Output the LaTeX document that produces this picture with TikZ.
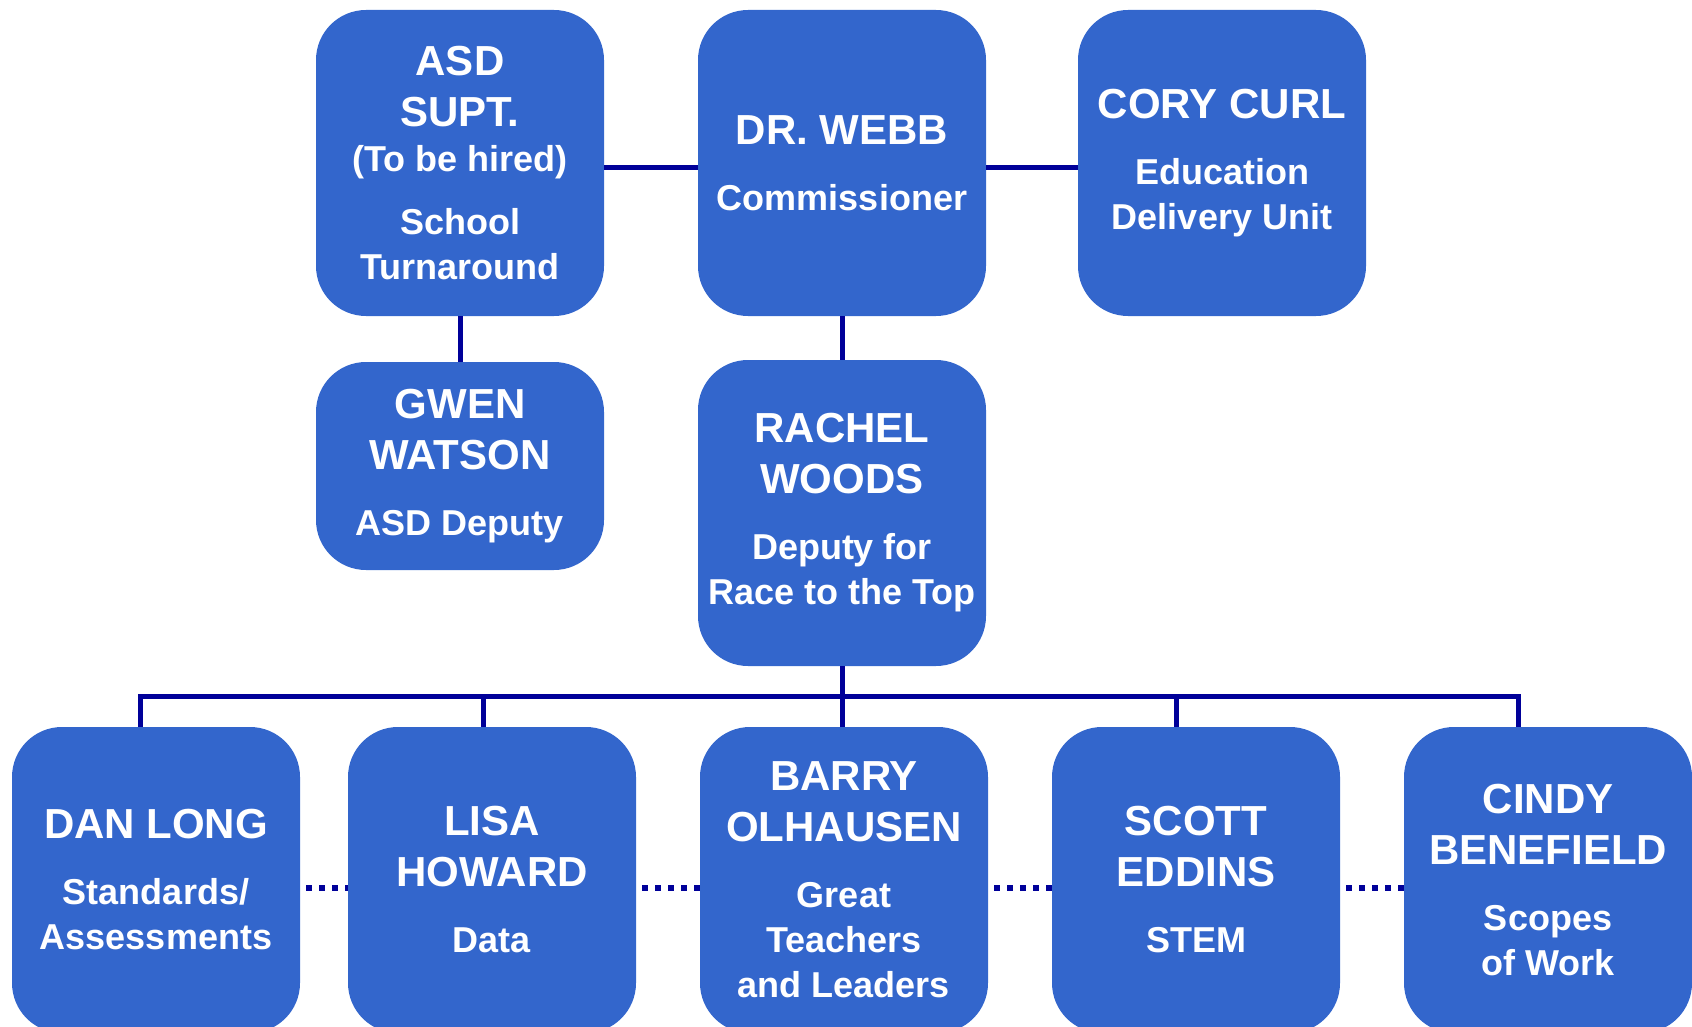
\documentclass[tikz,border=0pt]{standalone}
\usepackage{fontspec}
\setmainfont{Liberation Sans}
\usepackage{tikz}
\usetikzlibrary{positioning}

\definecolor{boxblue}{HTML}{3366CC}
\definecolor{linkblue}{HTML}{000099}
\newcommand{\namefont}{\fontsize{42}{51}\selectfont\bfseries}
\newcommand{\rolefont}{\fontsize{36}{45}\selectfont\bfseries}
\newcommand{\card}[2]{\parbox{284pt}{\centering\namefont #1\par\vspace{21pt}\rolefont #2\par}}

\begin{document}
\begin{tikzpicture}[x=1pt,y=-1pt,
    box/.style={fill=boxblue, text=white, rounded corners=50pt, inner sep=0pt,
                minimum width=288pt, minimum height=306pt, align=center},
    link/.style={draw=linkblue, line width=5pt, line join=miter},
    dotlink/.style={draw=linkblue, line width=6pt, dash pattern=on 6pt off 7pt, dash phase=-6pt}]
    \useasboundingbox (0,0) rectangle (1692,1027);
    \clip (0,0) rectangle (1692,1027);
               % top row
               \node[box] (asd) at (460,163)
                   {\parbox{284pt}{\centering\namefont ASD\\SUPT.\par\rolefont (To be hired)\par\vspace{18pt}School\\Turnaround\par}};
               \node[box] (webb) at (842,163) {\card{DR. WEBB}{Commissioner}};
               \node[box] (cory) at (1222,163) {\card{CORY CURL}{Education\\Delivery Unit}};
               % second row
               \node[box, minimum height=208pt] (gwen) at (460,466) {\card{GWEN\\WATSON}{ASD Deputy}};
               \node[box] (rachel) at (842,513) {\card{RACHEL\\WOODS}{Deputy for\\Race to the Top}};
               % bottom row
               \node[box] (dan) at (156,880) {\card{DAN LONG}{Standards/\\Assessments}};
               \node[box] (lisa) at (492,880) {\card{LISA\\HOWARD}{Data}};
               \node[box] (barry) at (844,880) {\card{BARRY\\OLHAUSEN}{Great\\Teachers\\and Leaders}};
               \node[box] (scott) at (1196,880) {\card{SCOTT\\EDDINS}{STEM}};
               \node[box] (cindy) at (1548,880) {\card{CINDY\\BENEFIELD}{Scopes\\of Work}};

               \coordinate (bus) at ([yshift=-30pt]rachel.south);
               \coordinate (danup) at ([xshift=-16pt]dan.north);
               \coordinate (lisaup) at ([xshift=-9pt]lisa.north);
               \coordinate (scottup) at ([xshift=-20pt]scott.north);
               \coordinate (cindyup) at ([xshift=-30pt]cindy.north);

               \draw[link] ([yshift=-5pt]asd.east) -- ([yshift=-5pt]webb.west);
               \draw[link] ([yshift=-5pt]webb.east) -- ([yshift=-5pt]cory.west);
               \draw[link] (asd) -- (gwen);
               \draw[link] (webb) -- (rachel);
               \draw[link] (rachel) -- (bus);
               \draw[link] (danup) |- (bus) -| (cindyup);
               \draw[link] (lisaup |- bus) -- (lisaup);
               \draw[link] (bus) -- (bus |- barry.north);
               \draw[link] (scottup |- bus) -- (scottup);

               \draw[dotlink] ([yshift=-8pt]dan.east) -- ([yshift=-8pt]lisa.west);
               \draw[dotlink] ([yshift=-8pt]lisa.east) -- ([yshift=-8pt]barry.west);
               \draw[dotlink] ([yshift=-8pt]barry.east) -- ([yshift=-8pt]scott.west);
               \draw[dotlink] ([yshift=-8pt]scott.east) -- ([yshift=-8pt]cindy.west);
\end{tikzpicture}
\end{document}
